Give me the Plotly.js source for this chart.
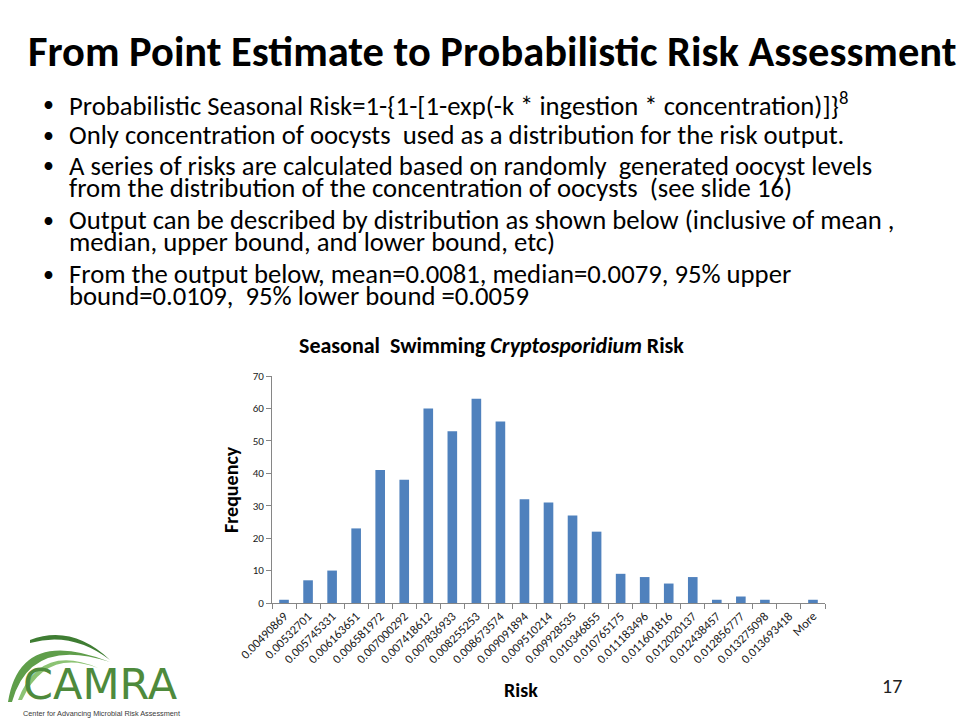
<!DOCTYPE html>
<html><head><meta charset="utf-8">
<script src="https://cdn.plot.ly/plotly-3.0.1.min.js"></script>
<style>html,body{margin:0;padding:0;background:#fff;overflow:hidden}#chart{width:960px;height:720px}</style>
</head><body><div id="chart"></div>
<script>
// ---- data ----
const categories = ["0.00490869","0.00532701","0.005745331","0.006163651","0.006581972","0.007000292",
  "0.007418612","0.007836933","0.008255253","0.008673574","0.009091894","0.009510214","0.009928535",
  "0.010346855","0.010765175","0.011183496","0.011601816","0.012020137","0.012438457","0.012856777",
  "0.013275098","0.013693418","More"];
const frequency = [1,7,10,23,41,38,60,53,63,56,32,31,27,22,9,8,6,8,1,2,1,0,1];
const yTickValues = [0,10,20,30,40,50,60,70];

const slideTitle = "From Point Estimate to Probabilistic Risk Assessment";
const chartTitle = "Seasonal  Swimming <i>Cryptosporidium</i> Risk";
const xTitle = "Risk";
const yTitle = "Frequency";
const pageNumber = "17";
const bulletLines = [
  ["Probabilistic Seasonal Risk=1-{1-[1-exp(-k * ingestion * concentration)]}<sup>8</sup>"],
  ["Only concentration of oocysts  used as a distribution for the risk output."],
  ["A series of risks are calculated based on randomly  generated oocyst levels",
   "from the distribution of the concentration of oocysts  (see slide 16)"],
  ["Output can be described by distribution as shown below (inclusive of mean ,",
   "median, upper bound, and lower bound, etc)"],
  ["From the output below, mean=0.0081, median=0.0079, 95% upper",
   "bound=0.0109,  95% lower bound =0.0059"]
];
const logoText = "CAMRA";
const logoSub = "Center for Advancing Microbial Risk Assessment";

// ---- layout helpers (pixel -> paper) ----
const L = 272, R = 825, T = 376, B = 603;
const W = R - L, H = B - T;
const px = x => (x - L) / W;
const py = y => (B - y) / H;
const FONT = "Calibri, Carlito, Lato, sans-serif";

const bulletY = [[104],[135],[166,188],[220,242],[274,296]];

const annotations = [];
annotations.push({xref:'paper',yref:'paper',x:px(492),y:py(51),xanchor:'center',yanchor:'middle',
  text:'<b>'+slideTitle+'</b>',showarrow:false,font:{family:FONT,size:42.5,color:'#000'}});
bulletLines.forEach((lines,i)=>{
  annotations.push({xref:'paper',yref:'paper',x:px(41),y:py(bulletY[i][0]),xanchor:'left',yanchor:'middle',
    text:'•',showarrow:false,font:{family:FONT,size:22,color:'#000'}});
  lines.forEach((t,j)=>{
    annotations.push({xref:'paper',yref:'paper',x:px(68),y:py(bulletY[i][j]),xanchor:'left',yanchor:'middle',
      text:t,showarrow:false,font:{family:FONT,size:26.7,color:'#000'},borderpad:0});
  });
});
annotations.push({xref:'paper',yref:'paper',x:px(491),y:py(345),xanchor:'center',yanchor:'middle',
  text:'<b>'+chartTitle+'</b>',showarrow:false,font:{family:FONT,size:22,color:'#000'}});
annotations.push({xref:'paper',yref:'paper',x:px(231),y:py(490),xanchor:'center',yanchor:'middle',textangle:-90,
  text:'<b>'+yTitle+'</b>',showarrow:false,font:{family:FONT,size:20,color:'#000'}});
annotations.push({xref:'paper',yref:'paper',x:px(521),y:py(690),xanchor:'center',yanchor:'middle',
  text:'<b>'+xTitle+'</b>',showarrow:false,font:{family:FONT,size:20,color:'#000'}});
annotations.push({xref:'paper',yref:'paper',x:px(892),y:py(686),xanchor:'center',yanchor:'middle',
  text:pageNumber,showarrow:false,font:{family:FONT,size:20,color:'#222'}});
annotations.push({xref:'paper',yref:'paper',x:px(100),y:py(684),xanchor:'center',yanchor:'middle',
  text:logoText,showarrow:false,font:{family:'DejaVu Sans, sans-serif',size:43,color:'#4e8a3c'},borderpad:0});
annotations.push({xref:'paper',yref:'paper',x:px(101),y:py(713),xanchor:'center',yanchor:'middle',
  text:logoSub,showarrow:false,font:{family:'Liberation Sans, sans-serif',size:7.3,color:'#3a3a3a'},borderpad:0});

// logo swooshes
function P(x,y){return px(x).toFixed(4)+','+py(y).toFixed(4);}
const shapes = [
  {type:'path',xref:'paper',yref:'paper',line:{width:0},fillcolor:'#5f9e4a',
   path:'M'+P(8,702)+' Q'+P(20,626)+' '+P(110,662)+' Q'+P(30,636)+' '+P(12,702)+' Z'},
  {type:'path',xref:'paper',yref:'paper',line:{width:0},fillcolor:'#8cc373',
   path:'M'+P(18,700)+' Q'+P(40,643)+' '+P(98,668)+' Q'+P(46,648)+' '+P(22,700)+' Z'},
  {type:'path',xref:'paper',yref:'paper',line:{width:0},fillcolor:'#3f7d33',
   path:'M'+P(30,640)+' Q'+P(72,624)+' '+P(110,660)+' Q'+P(72,631)+' '+P(30,643)+' Z'}
];

const trace = {type:'bar',x:categories,y:frequency,marker:{color:'#4F81BD',line:{width:0}},hoverinfo:'x+y'};

const layout = {
  width:960,height:720,
  margin:{l:L,r:960-R,t:T,b:720-B,pad:0},
  paper_bgcolor:'#fff',plot_bgcolor:'#fff',
  showlegend:false,bargap:0.6,
  font:{family:FONT,color:'#222'},
  xaxis:{type:'category',showgrid:false,zeroline:false,showline:true,linecolor:'#868686',linewidth:1,
    ticks:'outside',tickson:'boundaries',ticklen:5,tickcolor:'#868686',tickangle:-45,
    tickfont:{family:FONT,size:12.5,color:'#1a1a1a'}},
  yaxis:{range:[0,70],tickvals:yTickValues,showgrid:false,zeroline:false,showline:true,linecolor:'#868686',linewidth:1,
    ticks:'outside',ticklen:5,tickcolor:'#868686',tickfont:{family:FONT,size:11,color:'#1a1a1a'}},
  annotations:annotations,shapes:shapes
};
Plotly.newPlot('chart',[trace],layout,{displayModeBar:false,staticPlot:true});
</script></body></html>
